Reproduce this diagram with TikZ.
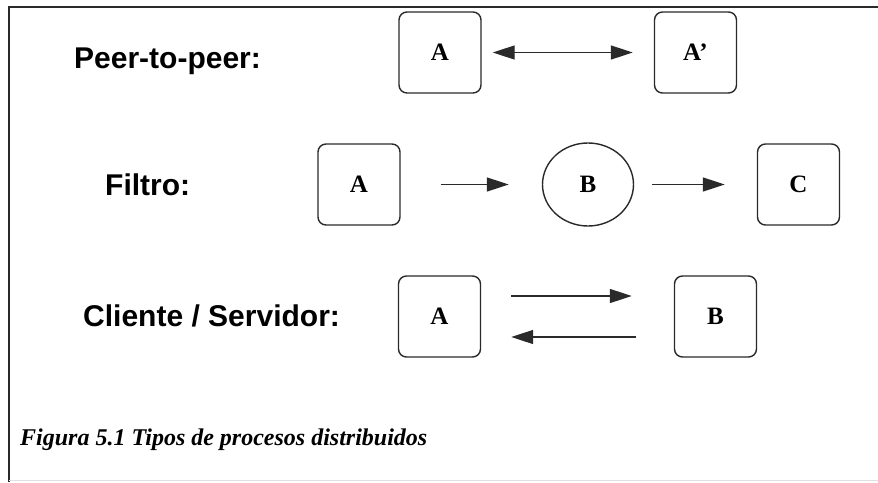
\documentclass[tikz,border=0pt]{standalone}
\usepackage{fontspec}
\setmainfont{Liberation Serif}
\newfontfamily\labelfont{Liberation Sans}
\usetikzlibrary{arrows.meta,shapes.geometric}
\definecolor{ink}{HTML}{2A2A2A}
\tikzset{
  procbox/.style={draw=ink, line width=1.4pt, rounded corners=8pt, minimum width=82pt, minimum height=81pt, inner sep=0pt, font=\fontsize{25}{25}\selectfont\bfseries},
  proccirc/.style={draw=ink, line width=1.4pt, ellipse, minimum width=91pt, minimum height=83pt, inner sep=0pt, font=\fontsize{25}{25}\selectfont\bfseries},
  rowlabel/.style={anchor=base west, inner sep=0pt, font=\labelfont\fontsize{30}{30}\selectfont\bfseries},
  arr/.style={draw=ink, line width=1.4pt, -{Triangle[length=22pt,width=14pt]}},
  dblarr/.style={draw=ink, line width=1.4pt, {Triangle[length=22pt,width=14pt]}-{Triangle[length=22pt,width=14pt]}},
  captionstyle/.style={anchor=base west, inner sep=0pt, font=\fontsize{24}{24}\selectfont\bfseries\itshape}
}
\begin{document}
\begin{tikzpicture}[x=1pt,y=-1pt]
\useasboundingbox (0,0) rectangle (878,482);
% frame
\coordinate (ftr) at (878,7);
\coordinate (ftl) at (9,7);
\coordinate (fbl) at (9,482);
\draw[ink, line width=1.6pt] (ftr) -- (ftl) -- (fbl);
\coordinate (fbl2) at (9,480);
\coordinate (fbr2) at (878,480);
\draw[black!12, line width=1pt] (fbl2) -- (fbr2);

% Peer-to-peer
\node[rowlabel] (lp) at (74,68) {Peer-to-peer:};
\node[procbox] (pA) at (440,52.5) {A};
\node[procbox] (pA2) at (695.5,52.5) {A’};
\draw[dblarr, shorten <=11pt, shorten >=21pt] (pA) -- (pA2);

% Filtro
\node[rowlabel] (lf) at (105,195) {Filtro:};
\node[procbox] (fA) at (359,184.5) {A};
\node[proccirc] (fB) at (588,184.5) {B};
\node[procbox] (fC) at (798.5,184.5) {C};
\draw[arr, shorten <=40pt, shorten >=33pt] (fA) -- (fB);
\draw[arr, shorten <=18pt, shorten >=32pt] (fB) -- (fC);

% Cliente / Servidor
\node[rowlabel] (lc) at (83,326) {Cliente / Servidor:};
\node[procbox] (cA) at (439.5,316.5) {A};
\node[procbox] (cB) at (715.5,316.5) {B};
\draw[arr, shorten <=30pt, shorten >=42pt] ([yshift=20.5pt]cA.east) -- ([yshift=20.5pt]cB.west);
\draw[arr, shorten <=38pt, shorten >=30pt] ([yshift=-20.5pt]cB.west) -- ([yshift=-20.5pt]cA.east);

% caption
\node[captionstyle] (cap) at (20,445) {Figura 5.1 Tipos de procesos distribuidos};
\end{tikzpicture}
\end{document}
